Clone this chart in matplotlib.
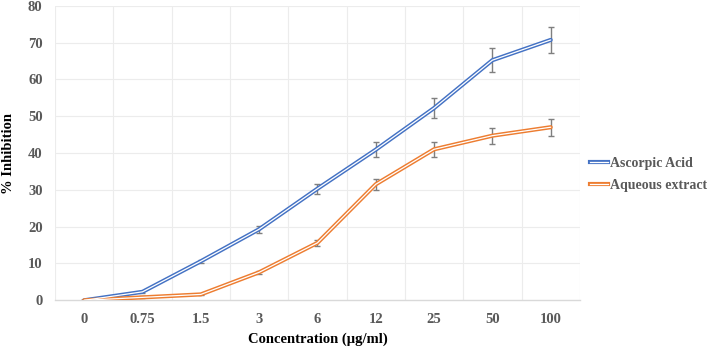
import numpy as np
import matplotlib.pyplot as plt
from matplotlib.lines import Line2D
from matplotlib.legend_handler import HandlerBase

concentrations = ["0", "0.75", "1.5", "3", "6", "12", "25", "50", "100"]
ascorbic = [0.0, 2.3, 10.6, 19.3, 30.3, 40.9, 52.2, 65.2, 70.7]
ascorbic_err = [0.0, 0.2, 0.4, 0.9, 1.3, 2.0, 2.7, 3.3, 3.6]
aqueous = [0.0, 0.8, 1.6, 7.6, 15.6, 31.5, 41.0, 44.7, 47.0]
aqueous_err = [0.0, 0.3, 0.2, 0.4, 0.8, 1.5, 2.0, 2.2, 2.3]

series = [
    ("Ascorpic Acid", ascorbic, ascorbic_err, "#4472C4"),
    ("Aqueous extract", aqueous, aqueous_err, "#ED7D31"),
]

tick_col = "#595959"
grid_col = "#ececec"
serif = "Liberation Serif"

fig = plt.figure(figsize=(7.08, 3.49), dpi=100)
ax = fig.add_axes([0.0777, 0.1395, 0.7413, 0.8442])

x = np.arange(len(concentrations))

# gridlines: horizontal at ticks, vertical between categories
for yv in range(10, 90, 10):
    ax.axhline(yv, color=grid_col, lw=0.8, zorder=0)
for xv in np.arange(-0.5, len(concentrations), 1.0):
    ax.axvline(xv, color=grid_col, lw=0.8, zorder=0)

handles = []
for name, vals, err, col in series:
    ax.errorbar(x, vals, yerr=err, fmt="none", ecolor="#7f7f7f", elinewidth=1.0,
                capsize=2.2, capthick=1.0, zorder=2)
    # double compound line: coloured line with a thin white core
    ln, = ax.plot(x, vals, color=col, lw=3.0, solid_joinstyle="round",
                  solid_capstyle="round", zorder=3)
    ax.plot(x, vals, color="white", lw=0.9, solid_joinstyle="round",
            solid_capstyle="round", zorder=4)
    handles.append((ln, name))

ax.set_xlim(-0.5, len(concentrations) - 0.5)
ax.set_ylim(0, 80)
ax.set_xticks(x)
ax.set_xticklabels(concentrations)
ax.set_yticks(range(0, 90, 10))

for s in ["top", "right", "left"]:
    ax.spines[s].set_visible(False)
ax.spines["bottom"].set_color("#d9d9d9")
ax.spines["bottom"].set_linewidth(1.0)
ax.tick_params(length=0, labelsize=10.5, labelcolor=tick_col)
ax.tick_params(axis="y", pad=9)
ax.tick_params(axis="x", pad=9)
for lab in ax.get_xticklabels() + ax.get_yticklabels():
    lab.set_fontfamily(serif)
    lab.set_fontweight("bold")

ax.set_xlabel("Concentration (µg/ml)", fontsize=10.5, fontweight="bold", fontfamily=serif)
ax.set_ylabel("% Inhibition", fontsize=10.5, fontweight="bold", fontfamily=serif)
ax.xaxis.set_label_coords(0.5, -0.11)
ax.yaxis.set_label_coords(-0.076, 0.5)


# legend entries drawn as double lines too
class DoubleLineHandler(HandlerBase):
    def create_artists(self, legend, orig, xd, yd, w, h, fs, trans):
        y = yd + h / 2
        outer = Line2D([xd, xd + w], [y, y], color=orig.get_color(), lw=3.0, transform=trans)
        inner = Line2D([xd, xd + w], [y, y], color="white", lw=0.9, transform=trans)
        return [outer, inner]


leg = fig.legend([h for h, _ in handles], [n for _, n in handles],
                 handler_map={Line2D: DoubleLineHandler()},
                 loc="center left", bbox_to_anchor=(0.833, 0.5), frameon=False,
                 borderpad=0, borderaxespad=0,
                 handlelength=1.3, handletextpad=0.15, labelspacing=0.65,
                 prop={"family": serif, "weight": "bold", "size": 10})
for t in leg.get_texts():
    t.set_color(tick_col)

fig.savefig("out.png", dpi=100)
